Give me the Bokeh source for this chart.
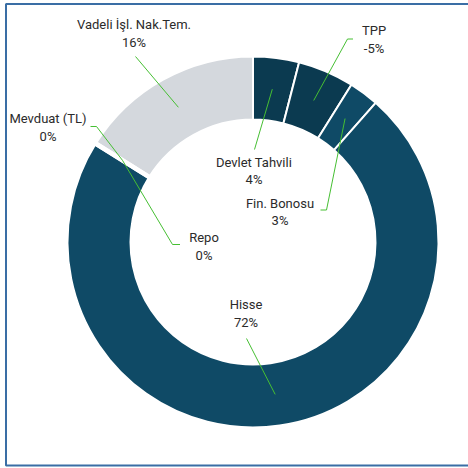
import math
from bokeh.plotting import figure
from bokeh.models import Range1d, ColumnDataSource
from bokeh.core.properties import value
from bokeh.embed import file_html
from bokeh.resources import INLINE

# ---- data ----
categories = ["Devlet Tahvili", "TPP", "Fin. Bonosu", "Hisse", "Repo", "Mevduat (TL)", "Vadeli İşl. Nak.Tem."]
values = [4.0, -4.9, 2.6, 72.4, 0.0, 0.0, 16.1]   # percent
colors = ["#0b3a50", "#0b3a50", "#0f4a66", "#0f4a66", "#0f4a66", "#0f4a66", "#d4d8dd"]

# ---- layout (page-pixel positions; y grows downward) ----
CX, CY = 252.5, 241.5
R_OUT, R_IN = 185.5, 122.5
R_ANCHOR = 154
# label centre x, name line y, percent line y
label_pos = {
    "Devlet Tahvili": (253.5, 161.5, 178.5),
    "TPP": (373.5, 29.5, 47.5),
    "Fin. Bonosu": (279.5, 203, 220),
    "Hisse": (245.5, 303.5, 321.5),
    "Repo": (203.5, 237, 255),
    "Mevduat (TL)": (47.5, 118, 136),
    "Vadeli İşl. Nak.Tem.": (133.5, 24, 42),
}
# leader start (label side) polyline points
leader_start = {
    "Devlet Tahvili": [(254, 149)],
    "TPP": [(352.5, 38.5), (347, 38.5)],
    "Fin. Bonosu": [(320, 209.5), (326, 209.5)],
    "Hisse": [(246, 338)],
    "Repo": [(179.5, 244), (172, 244)],
    "Mevduat (TL)": [(90, 126), (96, 126)],
    "Vadeli İşl. Nak.Tem.": [(135, 56)],
}

X0, Y0 = 0, 0          # page position of the figure
W, H = 468, 468

def dx(px):
    return px - CX

def dy(py):
    return CY - py

p = figure(width=W, height=H, output_backend="svg", toolbar_location=None,
           x_range=Range1d(dx(X0), dx(X0 + W)), y_range=Range1d(dy(Y0 + H), dy(Y0)),
           x_axis_location=None, y_axis_location=None, min_border=0,
           background_fill_color="white", border_fill_color="white")
p.grid.visible = False
p.outline_line_color = None

# ---- wedges ----
total = sum(abs(v) for v in values)
starts, ends, mids = [], [], []
cum = 0.0
for v in values:
    a0 = cum / total
    cum += abs(v)
    a1 = cum / total
    starts.append(math.pi / 2 - 2 * math.pi * a0)
    ends.append(math.pi / 2 - 2 * math.pi * a1)
    mids.append(math.pi / 2 - 2 * math.pi * (a0 + a1) / 2)

nz = [i for i, v in enumerate(values) if v != 0]
src = ColumnDataSource(dict(
    start=[starts[i] for i in nz], end=[ends[i] for i in nz], color=[colors[i] for i in nz]))
p.annular_wedge(x=0, y=0, inner_radius=R_IN, outer_radius=R_OUT, start_angle="start", end_angle="end",
                direction="clock", fill_color="color", line_color="white", line_width=2, source=src)

# zero-valued slices appear as a wider white gap
for i, v in enumerate(values):
    if v == 0:
        a = starts[i]
        p.segment(x0=[(R_IN - 3) * math.cos(a)], y0=[(R_IN - 3) * math.sin(a)],
                  x1=[(R_OUT + 3) * math.cos(a)], y1=[(R_OUT + 3) * math.sin(a)],
                  line_color="white", line_width=4.5)

# ---- leader lines ----
for i, c in enumerate(categories):
    pts = [(dx(x), dy(y)) for x, y in leader_start[c]]
    pts.append((R_ANCHOR * math.cos(mids[i]), R_ANCHOR * math.sin(mids[i])))
    p.line(x=[q[0] for q in pts], y=[q[1] for q in pts], line_color="#46bf33", line_width=1)

# ---- labels ----
names_x, names_y, pct_y, pct_txt = [], [], [], []
for i, c in enumerate(categories):
    lx, ly1, ly2 = label_pos[c]
    names_x.append(dx(lx)); names_y.append(dy(ly1)); pct_y.append(dy(ly2))
    pct_txt.append(f"{round(values[i]):d}%")
p.text(x=names_x, y=names_y, text=categories, text_align="center", text_baseline="middle",
       text_font=value("Roboto"), text_font_size="13px", text_color="#2b2b2b")
p.text(x=names_x, y=pct_y, text=pct_txt, text_align="center", text_baseline="middle",
       text_font=value("Roboto"), text_font_size="13px", text_color="#2b2b2b")

# ---- frame border (left, top, bottom; right side runs off the page) ----
bx0, by0, by1, bx1 = 5.5, 3.5, 465, 480
p.line(x=[dx(bx1), dx(bx0), dx(bx0), dx(bx1)], y=[dy(by0), dy(by0), dy(by1), dy(by1)],
       line_color="#3a6ea5", line_width=2)

open("out.html", "w").write(file_html(p, INLINE))
